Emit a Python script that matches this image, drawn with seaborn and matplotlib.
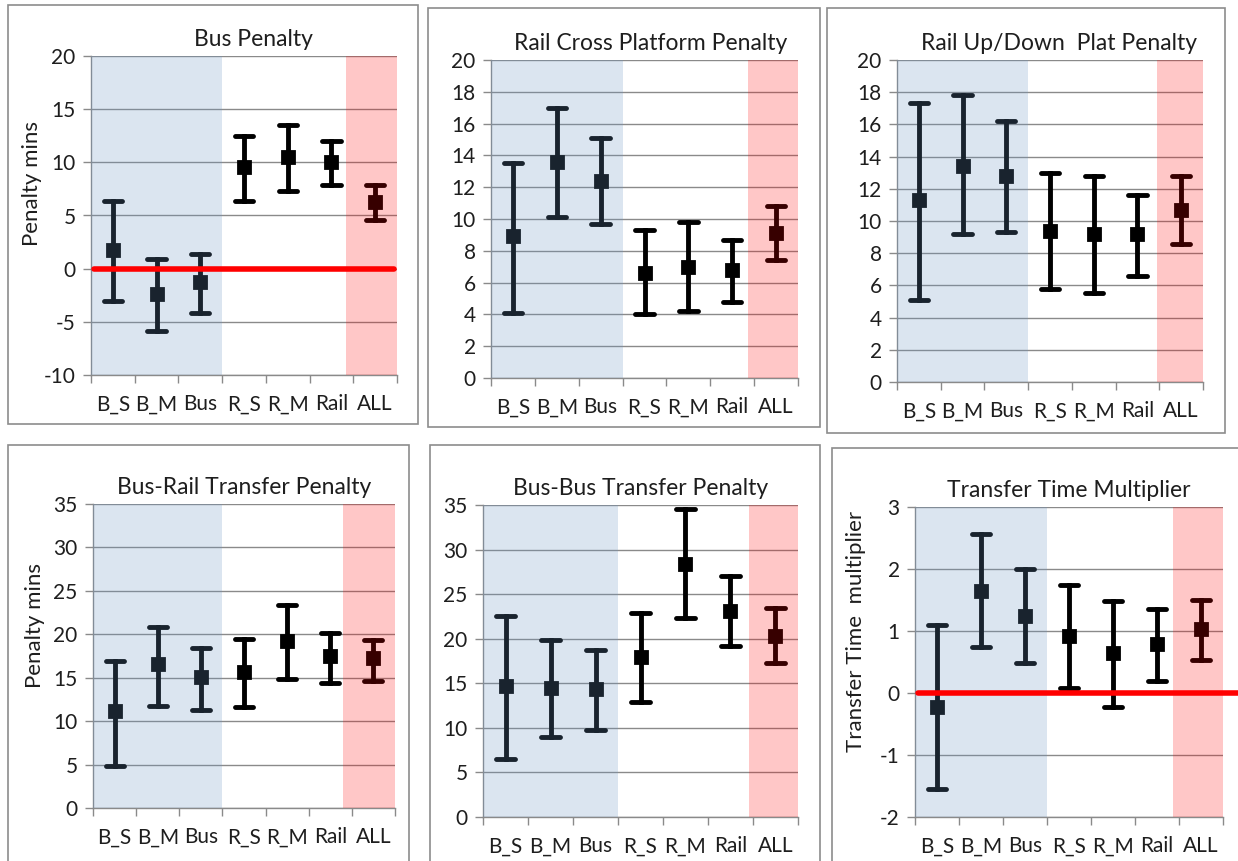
import numpy as np
import pandas as pd
import matplotlib.pyplot as plt
from matplotlib.patches import Rectangle
import seaborn as sns

sns.set_theme(style="white")
plt.rcParams["font.family"] = ["Lato", "DejaVu Sans"]
plt.rcParams["axes.unicode_minus"] = False

# categories shared by all panels
cats = ["B_S", "B_M", "Bus", "R_S", "R_M", "Rail", "ALL"]

# estimate, lower and upper bound per category
bus_mean = [1.8, -2.4, -1.3, 9.6, 10.5, 10.0, 6.3]
bus_lo = [-3.0, -5.9, -4.2, 6.4, 7.3, 7.9, 4.6]
bus_hi = [6.4, 0.9, 1.4, 12.5, 13.5, 12.0, 7.9]

cross_mean = [8.9, 13.6, 12.4, 6.6, 7.0, 6.8, 9.1]
cross_lo = [4.1, 10.1, 9.7, 4.0, 4.2, 4.8, 7.4]
cross_hi = [13.5, 17.0, 15.1, 9.3, 9.8, 8.7, 10.8]

updown_mean = [11.3, 13.4, 12.8, 9.4, 9.2, 9.2, 10.7]
updown_lo = [5.1, 9.2, 9.3, 5.8, 5.5, 6.6, 8.6]
updown_hi = [17.3, 17.8, 16.2, 13.0, 12.8, 11.6, 12.8]

busrail_mean = [11.2, 16.6, 15.1, 15.7, 19.2, 17.5, 17.3]
busrail_lo = [4.8, 11.8, 11.3, 11.6, 14.8, 14.4, 14.6]
busrail_hi = [16.9, 20.8, 18.4, 19.5, 23.4, 20.2, 19.3]

busbus_mean = [14.7, 14.5, 14.4, 18.0, 28.4, 23.1, 20.3]
busbus_lo = [6.5, 9.0, 9.8, 12.9, 22.3, 19.2, 17.3]
busbus_hi = [22.5, 19.8, 18.7, 22.9, 34.6, 27.0, 23.4]

mult_mean = [-0.22, 1.65, 1.25, 0.92, 0.64, 0.79, 1.03]
mult_lo = [-1.55, 0.75, 0.48, 0.08, -0.22, 0.20, 0.53]
mult_hi = [1.10, 2.57, 2.00, 1.75, 1.48, 1.36, 1.50]

W, H = 1238, 861
fig = plt.figure(figsize=(W / 100, H / 100), dpi=100)

# panel frames (pixels: left, top, right, bottom)
frames = [(8, 5, 418, 424), (428, 8, 820, 427), (827, 8, 1225, 433),
          (8, 445, 409, 870), (430, 445, 820, 870), (832, 448, 1245, 870)]
for l, t, r, b in frames:
    fig.add_artist(Rectangle((l / W, 1 - b / H), (r - l) / W, (b - t) / H,
                             transform=fig.transFigure, fill=False,
                             edgecolor="#8c8c8c", lw=1.2, clip_on=False))

# axes rectangles in pixels (left, top, right, bottom)
boxes = [(91, 56, 397, 375), (491, 60, 798, 378), (897, 60, 1203, 382),
         (93, 504, 395, 808), (483, 505, 798, 817), (915, 507, 1223, 817)]
# where the pink "ALL" band starts in each panel, and title x offset
pink_start = [5.33, 5.35, 5.45, 5.3, 5.42, 5.36]
title_x = [0.53, 0.52, 0.53, 0.5, 0.5, 0.5]

panels = [
    ("Bus Penalty", bus_mean, bus_lo, bus_hi, (-10, 20, 5), "Penalty mins", True),
    ("Rail Cross Platform Penalty", cross_mean, cross_lo, cross_hi, (0, 20, 2), None, False),
    ("Rail Up/Down  Plat Penalty", updown_mean, updown_lo, updown_hi, (0, 20, 2), None, False),
    ("Bus-Rail Transfer Penalty", busrail_mean, busrail_lo, busrail_hi, (0, 35, 5), "Penalty mins", False),
    ("Bus-Bus Transfer Penalty", busbus_mean, busbus_lo, busbus_hi, (0, 35, 5), None, False),
    ("Transfer Time Multiplier", mult_mean, mult_lo, mult_hi, (-2, 3, 1), "Transfer Time  multiplier", True),
]

txt = "#1e1e1e"
grid = "#8a8a8a"

for i, (title, mean, lo, hi, (ymin, ymax, step), ylab, zero) in enumerate(panels):
    l, t, r, b = boxes[i]
    ax = fig.add_axes([l / W, 1 - b / H, (r - l) / W, (b - t) / H])

    df = pd.DataFrame({
        "cat": cats * 3,
        "val": list(lo) + list(mean) + list(hi),
    })
    sns.pointplot(data=df, x="cat", y="val", order=cats, estimator="median",
                  errorbar=lambda v: (v.min(), v.max()), color="black",
                  marker="s", markersize=8.5, linestyle="none", capsize=0.42,
                  err_kws={"linewidth": 3.5}, ax=ax)

    # shaded groups drawn over the marks like the original
    ax.axvspan(-0.5, 2.5, color="#6C96C4", alpha=0.24, lw=0, zorder=5)
    ax.axvspan(pink_start[i], 6.5, color="#ff0000", alpha=0.22, lw=0, zorder=5)

    if zero:
        xmax = 1.05 if i == 5 else 0.99
        ax.axhline(0, xmin=0.01, xmax=xmax, color="#ff0000", lw=4,
                   zorder=6, clip_on=False)

    ax.set_xlim(-0.5, 6.5)
    ax.set_ylim(ymin, ymax)
    ax.set_yticks(np.arange(ymin, ymax + step / 2, step))
    ax.yaxis.grid(True, color=grid, lw=1)
    ax.set_axisbelow(True)

    ax.set_xticks(range(len(cats)))
    ax.set_xticklabels(cats)
    ax.set_xticks(np.arange(-0.5, len(cats), 1), minor=True)
    ax.tick_params(axis="x", which="major", length=0, pad=14,
                   labelsize=15, labelcolor=txt)
    ax.tick_params(axis="x", which="minor", length=6, width=1,
                   color=grid, direction="out", bottom=True)
    ax.tick_params(axis="y", length=6, width=1, color=grid, direction="out",
                   left=True, labelsize=15, labelcolor=txt, pad=5)

    for s in ["top", "right"]:
        ax.spines[s].set_visible(False)
    for s in ["left", "bottom"]:
        ax.spines[s].set_color(grid)
        ax.spines[s].set_linewidth(1)

    ax.set_xlabel("")
    if ylab:
        ax.set_ylabel(ylab, fontsize=16, color=txt)
        ax.yaxis.set_label_coords(-0.16, 0.6)
    else:
        ax.set_ylabel("")
    ax.set_title(title, fontsize=16.5, color=txt, pad=7, x=title_x[i])

fig.savefig("out.png", dpi=100)
